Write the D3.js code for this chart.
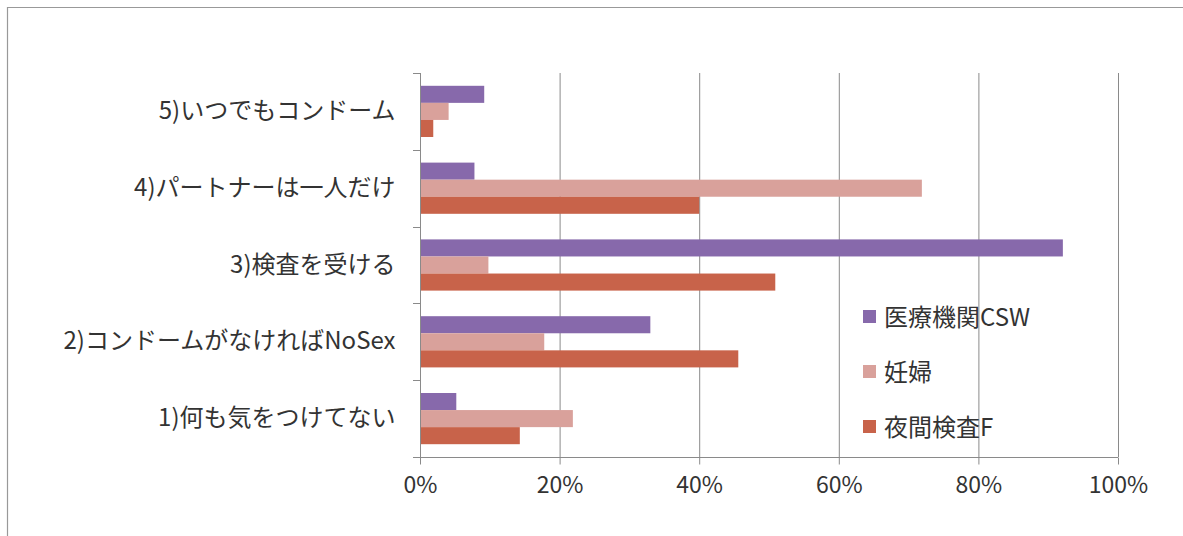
<!DOCTYPE html>
<html><head><meta charset="utf-8">
<script src="https://cdn.jsdelivr.net/npm/d3@7"></script>
<style>
html,body{margin:0;padding:0;background:#fff;}
svg{display:block;}
text{font-family:"Noto Sans CJK JP","Noto Sans",sans-serif;fill:#333;}
</style></head>
<body>
<script>
const categories = ["5)いつでもコンドーム","4)パートナーは一人だけ","3)検査を受ける","2)コンドームがなければNoSex","1)何も気をつけてない"];
const seriesNames = ["医療機関CSW","妊婦","夜間検査F"];
const csw      = [9.2, 7.8, 92.1, 33.0, 5.2];
const pregnant = [4.1, 71.9, 9.8, 17.8, 21.9];
const nightF   = [1.9, 40.0, 50.9, 45.6, 14.3];
const xTicks = [0, 20, 40, 60, 80, 100];
const colors = ["#8769AB", "#D9A19B", "#C8634A"];

(function(){
const W = 1183, H = 536;
const mL = 420, mR = 1118, mT = 73, mB = 457;
const svg = d3.select("body").append("svg").attr("width", W).attr("height", H);

// outer frame
svg.append("path").attr("d", `M7.5,${H} V7.5 H${W}`).attr("fill","none").attr("stroke","#999").attr("stroke-width",1.2);

const x = d3.scaleLinear().domain([0,100]).range([mL,mR]);
const y = d3.scaleBand().domain(categories).range([mT,mB]).paddingInner(1/3).paddingOuter(1/6);
const ys = d3.scaleBand().domain(seriesNames).range([0,y.bandwidth()]).padding(0);

// gridlines
svg.append("g").selectAll("line").data(xTicks.filter(d=>d>0)).join("line")
  .attr("x1",d=>x(d)+0.5).attr("x2",d=>x(d)+0.5).attr("y1",mT).attr("y2",mB)
  .attr("stroke","#8a8a8a").attr("stroke-width",1);

// bars
const seriesVals = [csw, pregnant, nightF];
seriesNames.forEach((s,si)=>{
  svg.append("g").selectAll("rect").data(categories).join("rect")
    .attr("x", x(0)).attr("y", (c)=>y(c)+ys(s))
    .attr("width",(c,i)=>x(seriesVals[si][i])-x(0))
    .attr("height", ys.bandwidth())
    .attr("fill", colors[si]);
});

// x axis
const xAxis = d3.axisBottom(x).tickValues(xTicks).tickFormat(d=>d+"%").tickSize(7).tickPadding(12);
const gx = svg.append("g").attr("transform",`translate(0,${mB+0.5})`).call(xAxis);
gx.select(".domain").attr("stroke","#8a8a8a").attr("d",`M${mL},0H${mR}`);
gx.selectAll(".tick line").attr("stroke","#8a8a8a");
gx.selectAll(".tick text").attr("font-size",23).attr("fill","#3a3a3a")
  .attr("font-family",'"Noto Sans","Noto Sans CJK JP",sans-serif');

// y axis
const yAxis = d3.axisLeft(y).tickSize(0).tickPadding(25);
const gy = svg.append("g").attr("transform",`translate(${mL+0.5},0)`).call(yAxis);
gy.select(".domain").attr("stroke","#8a8a8a").attr("d",`M0,${mT}V${mB}`);
gy.selectAll(".tick text").attr("font-size",24).attr("fill","#3a3a3a");
// category boundary ticks
const bounds = d3.range(categories.length+1).map(i=>mT + i*y.step());
svg.append("g").selectAll("line").data(bounds).join("line")
  .attr("x1",mL-7).attr("x2",mL).attr("y1",d=>Math.round(d)+0.5).attr("y2",d=>Math.round(d)+0.5)
  .attr("stroke","#8a8a8a");

// legend
const lg = svg.append("g");
seriesNames.forEach((s,i)=>{
  const cy = 317 + i*55;
  lg.append("rect").attr("x",863).attr("y",cy-7).attr("width",13).attr("height",13).attr("fill",colors[i]);
  lg.append("text").attr("x",884).attr("y",cy).attr("dy","0.36em").attr("font-size",24).attr("fill","#3a3a3a").text(s);
});
})();
</script>
</body></html>
